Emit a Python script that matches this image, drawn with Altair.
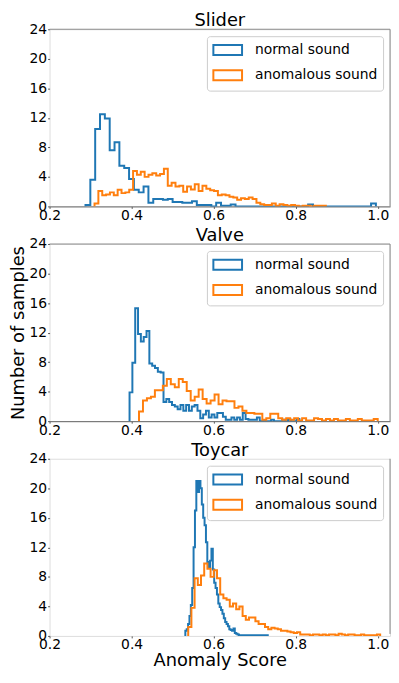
import altair as alt
import pandas as pd

FONT = "DejaVu Sans"
PANEL_W = 344
PANEL_H = 179

series_names = ["normal sound", "anomalous sound"]
series_colors = ["#1f77b4", "#ff7f0e"]
x_ticks = [0.2, 0.4, 0.6, 0.8, 1.0]
y_ticks = [0, 4, 8, 12, 16, 20, 24]

# ---- Slider ----
slider_normal_start, slider_normal_width = 0.2876, 0.0118
slider_normal_counts = [0.2, 3.6, 10.5, 12.5, 11.9, 7.6, 8.7, 5.5, 5.2, 3.7,
                        2.25, 1.9, 2.7, 0.5, 1.0, 1.0, 0.9, 1.0, 0.6, 0.6,
                        0.5, 0.5, 0.7, 0.2, 0.2, 0.2, 0.0, 0.5, 0.1, 0.1,
                        0.25, 0, 0, 0, 0, 0, 0, 0, 0, 0,
                        0, 0, 0, 0, 0, 0, 0.25, 0, 0, 0,
                        0, 0, 0, 0, 0, 0, 0, 0, 0, 0.4]
slider_anom_start, slider_anom_width = 0.3096, 0.0094
slider_anom_counts = [0.4, 2.1, 1.5, 1.6, 1.9, 1.5, 2.25, 1.8, 1.9, 2.25,
                      4.8, 4.3, 4.7, 4.0, 4.3, 4.5, 4.2, 4.4, 5.1, 2.8,
                      3.2, 2.7, 2.8, 2.0, 2.7, 2.3, 3.0, 2.1, 2.8, 2.4,
                      2.2, 2.1, 1.5, 1.6, 1.5, 1.3, 1.2, 0.9, 1.1, 1.0,
                      1.2, 1.0, 0.5, 0.3, 0.2, 0.2, 0.4, 0.1, 0.3, 0.2,
                      0.1, 0.2, 0.1, 0.0, 0.1, 0.1, 0.0, 0.1, 0.1, 0.1]

# ---- Valve ----
valve_normal_start, valve_normal_width = 0.395, 0.0069
valve_normal_counts = [3.9, 7.9, 15.3, 11.8, 10.8, 11.4, 12.2, 7.8, 7.5, 7.2,
                       6.7, 6.6, 2.6, 3.0, 2.6, 2.2, 2.0, 1.6, 2.2, 1.4,
                       2.2, 1.4, 2.0, 2.2, 1.4, 0.4, 0.9, 1.4, 0.5, 0.9,
                       0.5, 1.1, 1.1, 0.6, 0.2, 0.2, 0.5, 0.2, 0.5, 0.2,
                       1.1, 0.3, 0.2, 0.2, 0.2, 0.5, 0, 0.1, 0, 0,
                       0.2, 0, 0, 0, 0.2, 0, 0.2, 0, 0, 0.3]
valve_anom_start, valve_anom_width = 0.418, 0.0097
valve_anom_counts = [1.3, 2.8, 3.1, 3.3, 4.2, 4.2, 4.8, 5.7, 5.0, 4.6,
                     5.7, 5.3, 4.1, 2.8, 3.3, 4.3, 3.0, 2.4, 2.8, 3.6,
                     2.3, 2.8, 2.7, 2.7, 1.8, 2.0, 1.4, 1.1, 1.1, 1.0,
                     1.0, 0.2, 0.4, 1.0, 1.0, 0.4, 0.2, 0.4, 0.2, 0.4,
                     0.1, 0.4, 0.1, 0.1, 0.4, 0.3, 0.1, 0.3, 0.1, 0.3,
                     0.1, 0.1, 0.3, 0.1, 0.1, 0.3, 0.1, 0.1, 0.1, 0.3]

# ---- Toycar ----
toycar_normal_start, toycar_normal_width = 0.531, 0.00335
toycar_normal_counts = [0.7, 0.9, 1.6, 2.7, 4.2, 6.5, 12.0, 17.0, 21.0, 19.5,
                        21.0, 20.0, 17.8, 16.0, 15.0, 12.7, 10.0, 9.2, 10.2, 11.8,
                        9.0, 7.2, 6.5, 5.6, 4.4, 3.9, 3.5, 3.0, 2.4, 1.9,
                        1.6, 1.3, 0.9, 0.8, 0.7, 1.0, 0.4, 0.3, 0.2, 0.1,
                        0.1, 0.0, 0.1, 0.1, 0.0, 0.1, 0.1, 0.0, 0.1, 0.1,
                        0.0, 0.1, 0.0, 0.1, 0.1, 0.0, 0.1, 0.0, 0.1, 0.1]
toycar_anom_start, toycar_anom_width = 0.538, 0.0078
toycar_anom_counts = [1.2, 3.8, 7.8, 6.9, 8.2, 9.8, 9.1, 8.0, 8.9, 7.8,
                      5.6, 5.1, 4.9, 4.0, 4.4, 3.6, 4.0, 2.7, 2.2, 2.5,
                      2.5, 2.0, 1.6, 1.6, 1.2, 0.9, 1.1, 1.0, 0.9, 0.7,
                      0.7, 0.6, 0.5, 0.4, 0.5, 0.2, 0.2, 0.2, 0.1, 0.2,
                      0.2, 0.1, 0.2, 0.1, 0.2, 0.2, 0.1, 0.3, 0.2, 0.1,
                      0.2, 0.2, 0.1, 0.1, 0.2, 0.1, 0.1, 0.1, 0.1, 0.2]

panels = [
    ("Slider", (slider_normal_start, slider_normal_width, slider_normal_counts),
     (slider_anom_start, slider_anom_width, slider_anom_counts)),
    ("Valve", (valve_normal_start, valve_normal_width, valve_normal_counts),
     (valve_anom_start, valve_anom_width, valve_anom_counts)),
    ("Toycar", (toycar_normal_start, toycar_normal_width, toycar_normal_counts),
     (toycar_anom_start, toycar_anom_width, toycar_anom_counts)),
]


def step_rows(series, start, width, counts):
    edges = [start + width * k for k in range(len(counts) + 1)]
    pts = [(edges[0], 0.0)] + [(edges[k], c) for k, c in enumerate(counts)]
    pts += [(edges[-1], counts[-1]), (edges[-1], 0.0)]
    return [{"series": series, "x": x, "y": y, "i": i} for i, (x, y) in enumerate(pts)]


LEGEND_PATH = "M-2,-0.7H2V0.7H-2Z"
SPINE = "#8c8c8c"

charts = []
for idx, (name, normal, anom) in enumerate(panels):
    rows = step_rows(series_names[0], *normal) + step_rows(series_names[1], *anom)
    df = pd.DataFrame(rows)
    is_mid = idx == 1
    is_last = idx == 2
    lines = alt.Chart(df).mark_line(interpolate="step-after", strokeWidth=2, clip=True).encode(
        x=alt.X("x:Q",
                scale=alt.Scale(domain=[0.2, 1.03], nice=False, zero=False),
                axis=alt.Axis(values=x_ticks, format=".1f", labelFont=FONT, labelFontSize=14,
                              labelColor="black", labelFlush=False, labelOverlap=False,
                              tickSize=2, tickColor="#555", labelPadding=0,
                              domain=not is_last, domainColor="#666", grid=False,
                              titleFont=FONT, titleFontSize=18, titleFontWeight="normal",
                              titleColor="black", titlePadding=0),
                title="Anomaly Score" if is_last else None),
        y=alt.Y("y:Q",
                scale=alt.Scale(domain=[0, 24], nice=False),
                axis=alt.Axis(values=y_ticks, labelFont=FONT, labelFontSize=14,
                              labelColor="black", labelFlush=False, labelOverlap=False,
                              tickSize=2, tickColor="#555", labelPadding=1,
                              domain=False, grid=False,
                              titleFont=FONT, titleFontSize=18, titleFontWeight="normal",
                              titleColor="black", titlePadding=2),
                title="Number of samples" if is_mid else None),
        color=alt.Color("series:N",
                        scale=alt.Scale(domain=series_names, range=series_colors),
                        legend=alt.Legend(title=None, orient="top-right", offset=7,
                                          symbolType=LEGEND_PATH, symbolSize=210,
                                          symbolStrokeWidth=2, symbolFillColor="transparent",
                                          symbolOffset=7,
                                          labelFont=FONT, labelFontSize=14, labelColor="black",
                                          labelOffset=19, padding=5.5, rowPadding=6.5,
                                          strokeColor="#cccccc", fillColor="rgba(255,255,255,0.85)",
                                          cornerRadius=3)),
        order=alt.Order("i:Q"),
    )
    one = alt.Chart(pd.DataFrame({"a": [0]}))
    layers = [lines]
    if not is_last:
        layers.append(one.mark_rule(color=SPINE, strokeWidth=1).encode(
            x=alt.value(0), x2=alt.value(PANEL_W), y=alt.value(0)))
        layers.append(one.mark_rule(color=SPINE, strokeWidth=1).encode(
            x=alt.value(PANEL_W), y=alt.value(0), y2=alt.value(PANEL_H)))
    else:
        layers.append(one.mark_rule(color=SPINE, strokeWidth=1).encode(
            x=alt.value(PANEL_W), y=alt.value(0), y2=alt.value(PANEL_H - 2)))
    ch = alt.layer(*layers).properties(
        width=PANEL_W, height=PANEL_H,
        title=alt.TitleParams(name, font=FONT, fontSize=18, fontWeight="normal",
                              color="black", anchor="middle", frame="group", offset=-8),
    )
    charts.append(ch)

chart = alt.vconcat(*charts, spacing=38, bounds="flush").resolve_scale(
    color="independent").resolve_legend(color="independent").properties(
    padding={"left": 0, "top": 0, "right": 0, "bottom": 0}
).configure_view(stroke=None).configure(background="white")

chart.save("out.html", embed_options={"renderer": "svg", "actions": False})
